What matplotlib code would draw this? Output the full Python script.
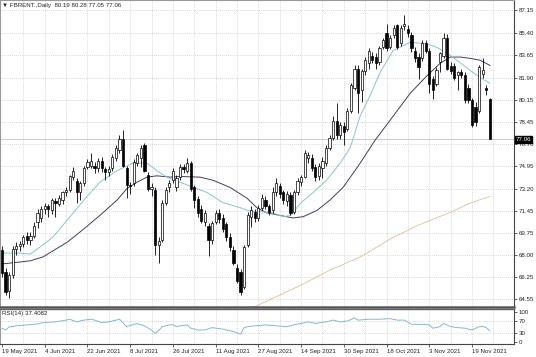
import matplotlib
matplotlib.use("Agg")
import matplotlib.pyplot as plt
import numpy as np

plt.rcParams['font.family'] = ['Liberation Sans', 'DejaVu Sans']

# -------------------------------
# Daily candles (bar index 0 = 19 May 2021)
# -------------------------------
opens = [68.4, 66.7, 65.2, 66.4, 68.5, 68.7, 68.9, 69.5, 69.2, 69.5,
         70.6, 70.9, 71.6, 71.8, 71.5, 72.2, 72.0, 72.3, 72.9, 73.1,
         74.1, 73.8, 72.9, 73.6, 74.9, 75.0, 75.0, 74.8, 75.4, 74.7,
         74.5, 74.8, 75.6, 76.2, 77.1, 74.8, 73.5, 73.6, 75.2, 75.6,
         76.6, 74.3, 73.2, 73.1, 68.8, 69.2, 72.1, 73.3, 73.9, 73.3,
         74.1, 74.9, 74.6, 75.2, 73.3, 72.4, 71.6, 70.6, 70.3, 69.2,
         70.6, 71.3, 70.9, 70.4, 69.4, 68.4, 67.0, 66.7, 65.5, 68.8,
         71.0, 71.4, 70.9, 71.7, 72.3, 71.8, 71.5, 72.9, 73.4, 72.9,
         72.2, 72.7, 71.4, 72.9, 73.7, 74.1, 75.6, 75.6, 74.9, 74.2,
         74.8, 75.2, 76.4, 77.2, 78.5, 77.4, 78.1, 77.9, 79.3, 81.1,
         82.6, 80.9, 82.4, 83.0, 83.6, 83.5, 83.1, 84.3, 85.4, 84.3,
         85.2, 86.0, 84.6, 85.9, 85.7, 85.2, 84.0, 83.5, 83.4, 84.6,
         84.0, 81.8, 81.4, 83.1, 83.6, 85.0, 82.8, 82.8, 82.1, 82.3,
         82.1, 81.1, 80.1, 79.6, 79.3, 82.2, 81.1, 80.19]
highs = [68.7, 67.0, 66.7, 68.7, 69.0, 69.1, 69.6, 69.8, 69.8, 70.6,
         71.6, 71.8, 72.1, 72.0, 72.5, 72.5, 72.7, 73.0, 73.3, 74.3,
         74.9, 74.0, 73.8, 75.0, 75.5, 76.0, 75.3, 75.6, 75.7, 74.9,
         75.0, 75.9, 76.6, 77.4, 77.8, 75.0, 73.7, 75.5, 76.0, 76.6,
         76.8, 74.5, 73.6, 73.3, 69.4, 72.3, 73.3, 73.9, 74.8, 74.3,
         75.1, 75.1, 75.6, 75.4, 73.5, 72.6, 71.9, 71.5, 70.5, 70.7,
         71.5, 71.6, 71.2, 70.6, 69.7, 68.7, 67.3, 66.9, 68.8, 71.4,
         71.8, 71.6, 71.9, 72.8, 72.6, 72.0, 73.3, 74.0, 73.6, 73.1,
         73.0, 72.9, 73.1, 74.0, 74.3, 76.2, 76.1, 75.9, 75.1, 75.2,
         75.7, 76.6, 77.4, 78.9, 79.9, 78.4, 78.4, 79.5, 81.5, 82.9,
         82.9, 82.6, 83.5, 84.2, 83.9, 83.8, 84.4, 85.0, 86.1, 85.2,
         86.0, 86.1, 86.0, 86.8, 86.0, 85.5, 84.3, 83.8, 84.8, 84.8,
         84.2, 82.0, 82.7, 83.9, 85.4, 85.3, 83.1, 83.0, 82.4, 82.6,
         82.3, 81.4, 80.3, 80.0, 82.9, 83.4, 81.3, 80.28]
lows = [66.3, 64.9, 64.6, 66.2, 68.0, 68.3, 68.6, 68.9, 68.8, 69.3,
        70.1, 70.6, 71.2, 71.0, 71.2, 71.0, 71.8, 72.0, 72.6, 72.9,
        73.9, 72.1, 72.3, 73.4, 74.7, 74.8, 74.4, 74.5, 74.5, 73.9,
        74.2, 74.6, 75.4, 76.0, 74.9, 72.5, 72.8, 73.4, 75.0, 74.9,
        74.5, 73.0, 72.6, 68.0, 67.4, 69.0, 71.9, 72.9, 73.6, 73.0,
        73.9, 74.4, 74.4, 73.0, 71.7, 71.0, 70.5, 70.3, 67.9, 68.9,
        70.4, 70.5, 69.8, 69.1, 68.3, 67.2, 65.8, 64.9, 65.3, 68.6,
        70.2, 70.6, 70.7, 71.5, 71.6, 71.1, 71.3, 72.6, 72.5, 72.0,
        71.8, 71.1, 71.2, 72.7, 73.4, 74.0, 75.2, 74.6, 73.8, 73.9,
        74.0, 75.0, 76.2, 77.0, 77.1, 77.1, 76.6, 77.7, 79.1, 80.9,
        79.1, 80.0, 82.1, 82.6, 83.0, 82.6, 82.9, 84.1, 84.0, 84.1,
        85.0, 84.1, 84.4, 85.6, 85.1, 83.9, 83.1, 81.8, 83.2, 83.8,
        80.7, 80.2, 81.2, 82.3, 83.4, 82.5, 82.2, 81.7, 80.9, 81.9,
        79.9, 79.9, 78.0, 78.1, 79.1, 81.9, 80.5, 77.05]
closes = [66.6, 65.1, 66.4, 68.5, 68.7, 68.9, 69.4, 69.2, 69.5, 70.3,
          71.3, 71.6, 71.8, 71.6, 72.3, 72.1, 72.5, 72.9, 73.1, 74.2,
          74.6, 72.9, 73.6, 74.8, 75.3, 75.4, 74.8, 75.4, 74.8, 74.5,
          74.7, 75.7, 76.4, 77.1, 75.0, 73.5, 73.4, 75.3, 75.8, 76.4,
          74.6, 73.2, 73.3, 68.8, 69.1, 72.1, 73.1, 73.6, 74.6, 74.0,
          74.9, 74.7, 75.2, 73.2, 72.3, 71.3, 70.7, 71.3, 69.2, 70.5,
          71.3, 70.8, 70.0, 69.4, 68.6, 67.4, 66.0, 65.1, 68.6, 71.1,
          71.5, 70.9, 71.7, 72.5, 71.8, 71.4, 72.9, 73.6, 72.8, 72.3,
          72.8, 71.3, 72.9, 73.8, 74.1, 76.0, 75.8, 74.8, 74.1, 75.0,
          75.4, 76.4, 77.2, 78.5, 77.4, 78.2, 77.6, 79.3, 81.3, 82.6,
          80.7, 82.4, 83.3, 84.0, 83.3, 83.0, 84.2, 84.8, 84.2, 85.0,
          85.8, 84.3, 85.8, 86.1, 85.4, 84.2, 83.4, 82.7, 84.6, 84.0,
          81.4, 80.9, 82.5, 83.8, 85.0, 82.6, 82.4, 81.9, 82.3, 82.1,
          80.1, 80.1, 78.2, 78.4, 82.7, 82.5, 80.9, 77.06]

# moving averages (bar index, price)
fast_ma_x = [0, 5, 8, 11.5, 14.3, 17, 23, 27.5, 32.3, 36.8, 40.7, 43.5, 46.3,
             50, 53.7, 57.6, 62, 67, 70, 72.5, 76, 79, 81, 84, 87.4, 91.3,
             95, 97.8, 100.6, 103.4, 106.2, 109.8, 114.6, 119.4, 122.2, 125,
             127.8, 131.5, 134.3, 137]
fast_ma_y = [68.15, 68.15, 68.07, 68.8, 69.4, 70.3, 72.3, 73.7, 74.6, 75.2,
             75.2, 74.6, 74.1, 73.7, 73.3, 72.9, 72.1, 71.7, 71.4, 71.4,
             71.3, 71.0, 71.1, 72.1, 72.9, 73.9, 75.2, 76.4, 78.9, 80.5,
             82.3, 84.0, 84.65, 84.55, 84.25, 83.8, 83.25, 82.45, 81.9, 81.45]
slow_ma_x = [0, 5, 8, 11.5, 18.3, 22.8, 27.5, 32.3, 35.1, 37.9, 40.7, 43.5,
             47.2, 50, 55.6, 59.3, 64, 68.8, 71.6, 74.4, 78.1, 81.7, 84.6,
             88.5, 92.1, 95.8, 98.6, 100.6, 104.8, 109, 114.6, 119.4, 123,
             125.8, 128.7, 131.5, 134.3, 137]
slow_ma_y = [67.3, 67.45, 67.55, 67.85, 69.0, 70.0, 71.1, 72.3, 73.2, 73.7,
             74.1, 74.2, 74.1, 74.15, 74.1, 73.85, 73.3, 72.45, 71.7, 71.3,
             71.1, 70.9, 71.0, 71.5, 72.3, 73.3, 74.4, 75.2, 77.0, 78.55,
             80.65, 82.05, 83.0, 83.5, 83.5, 83.4, 83.25, 82.85]
long_ma_x = [66, 71, 84, 92, 101, 109, 117, 126, 131, 137]
long_ma_y = [63.4, 63.95, 65.65, 66.8, 67.9, 69.25, 70.35, 71.35, 72.0, 72.6]

# RSI(14)
rsi_x = [0, 1, 2, 4, 7, 9, 12, 15, 18, 19, 21, 23, 25, 26, 28, 30, 33, 35,
         37, 38, 40, 42, 43, 44, 45, 47, 48, 49, 50, 52, 53, 55, 57, 59, 62,
         65, 67, 68, 69, 71, 74, 77, 80, 82, 84, 86, 88, 91, 93, 95, 97, 99,
         100, 103, 106, 109, 111, 113, 115, 118, 120, 121, 123, 124, 126,
         128, 130, 132, 134, 135, 136, 137]
rsi_y = [46, 40, 50, 54, 57, 59, 65, 67, 73, 76, 67, 73, 76, 73, 65, 67, 76,
         51, 59, 61, 54, 40, 29, 38, 51, 57, 58, 51, 54, 57, 46, 40, 40, 48,
         43, 35, 26, 48, 51, 54, 57, 54, 51, 57, 62, 67, 62, 67, 73, 67, 70,
         80, 73, 76, 76, 78, 73, 73, 59, 59, 57, 46, 51, 62, 51, 48, 46, 40,
         51, 52, 48, 37.4]

price_ticks = [87.15, 85.40, 83.65, 81.90, 80.15, 78.45, 76.70, 74.95,
               73.20, 71.45, 69.75, 68.00, 66.25, 64.55]
rsi_ticks = [0, 30, 70, 100]
date_ticks = [0, 12, 24, 36, 48, 60, 72, 84, 96, 108, 120, 132]
date_labels = ["19 May 2021", "4 Jun 2021", "22 Jun 2021", "8 Jul 2021",
               "26 Jul 2021", "11 Aug 2021", "27 Aug 2021", "14 Sep 2021",
               "30 Sep 2021", "18 Oct 2021", "3 Nov 2021", "19 Nov 2021"]
last_price = 77.06

# -------------------------------
# Figure
# -------------------------------
fig = plt.figure(figsize=(5.36, 3.57), dpi=100)
ax = fig.add_axes([0.0, 0.1401, 0.959, 0.8585])
rs = fig.add_axes([0.0, 0.0364, 0.959, 0.098], sharex=ax)

fs = 4.4
grid_kw = dict(color="#c4c4c4", lw=0.5, ls=(0, (1.2, 1.6)), zorder=0)

x = np.arange(len(closes))
o = np.array(opens)
c = np.array(closes)
h = np.array(highs)
l = np.array(lows)
up = c >= o
body_lo = np.minimum(o, c)
body_h = np.maximum(np.abs(c - o), 0.07)

for gx in range(6, 144, 6):
    ax.axvline(gx, **grid_kw)
    rs.axvline(gx, **grid_kw)
for gy in price_ticks:
    ax.axhline(gy, **grid_kw)
for gy in [30, 70]:
    rs.axhline(gy, **grid_kw)

ax.axhline(last_price, color="#b8b8b8", lw=0.5, zorder=1)

ax.plot(long_ma_x, long_ma_y, color="#d8c0a0", lw=0.6, zorder=1)
ax.plot(slow_ma_x, slow_ma_y, color="#3e3f5c", lw=0.7, zorder=1)
ax.plot(fast_ma_x, fast_ma_y, color="#8fc4c4", lw=0.7, zorder=1)

ax.vlines(x, l, h, color="black", lw=0.6, zorder=2)
ax.bar(x[up], body_h[up], bottom=body_lo[up], width=0.62, color="white",
       edgecolor="black", linewidth=0.5, zorder=3)
ax.bar(x[~up], body_h[~up], bottom=body_lo[~up], width=0.62, color="black",
       edgecolor="black", linewidth=0.5, zorder=3)

ax.set_xlim(-0.56, 143.8)
ax.set_ylim(63.93, 87.93)
ax.yaxis.tick_right()
ax.set_yticks(price_ticks)
ax.set_yticklabels([f"{v:.2f}" for v in price_ticks])
ax.tick_params(axis="y", labelsize=fs, length=2, width=0.5, pad=1.5,
               colors="#222222")
ax.tick_params(axis="x", bottom=False, labelbottom=False)

ax.text(0.004, 0.992, "\u25bc FBRENT.,Daily  80.19 80.28 77.05 77.06",
        transform=ax.transAxes, ha="left", va="top", fontsize=fs,
        color="#222222", family=["Liberation Sans", "DejaVu Sans"])
ax.text(1.004, last_price, f"{last_price:.2f}", transform=ax.get_yaxis_transform(),
        ha="left", va="center", fontsize=fs, color="white", clip_on=False,
        zorder=5, bbox=dict(boxstyle="square,pad=0.12", fc="black", ec="black"))

for side in ["top", "left"]:
    ax.spines[side].set_color("#999999")
    ax.spines[side].set_linewidth(0.8)
ax.spines["right"].set_color("#444444")
ax.spines["right"].set_linewidth(0.8)
ax.spines["bottom"].set_color("#555555")
ax.spines["bottom"].set_linewidth(1.8)

# RSI panel
rs.plot(rsi_x, rsi_y, color="#86b8cc", lw=0.7)
rs.set_ylim(-6.7, 110)
rs.yaxis.tick_right()
rs.set_yticks(rsi_ticks)
rs.set_yticklabels([str(v) for v in rsi_ticks])
rs.tick_params(axis="y", labelsize=fs, length=2, width=0.5, pad=1.5,
               colors="#222222")
rs.set_xticks(date_ticks)
rs.set_xticklabels(date_labels, ha="left")
rs.tick_params(axis="x", labelsize=fs, length=2, width=0.5, pad=1.5,
               colors="#222222")
rs.text(0.004, 0.93, "RSI(14) 37.4082", transform=rs.transAxes,
        ha="left", va="top", fontsize=fs, color="#222222")
rs.spines["top"].set_color("#606060")
rs.spines["top"].set_linewidth(1.0)
rs.spines["left"].set_color("#999999")
rs.spines["right"].set_color("#444444")
rs.spines["bottom"].set_color("#444444")
for side in ["left", "right", "bottom"]:
    rs.spines[side].set_linewidth(0.8)

fig.savefig("out.png", dpi=100)
